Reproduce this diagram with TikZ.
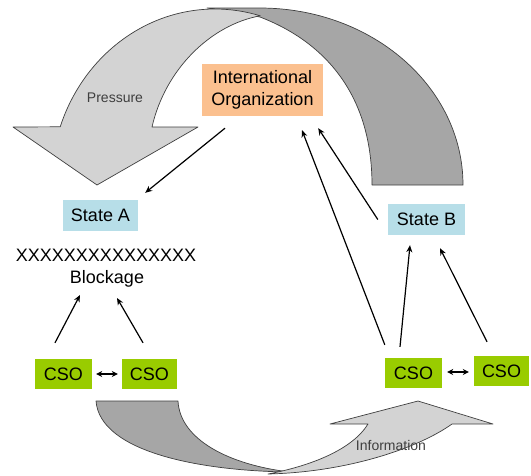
\documentclass[tikz,border=0pt]{standalone}
\usepackage{fontspec}
\setmainfont{Liberation Sans}
\usetikzlibrary{arrows.meta}
\definecolor{bandlight}{HTML}{D3D3D3}
\definecolor{banddark}{HTML}{A6A6A6}
\definecolor{bandline}{HTML}{3F3F3F}
\definecolor{ioorange}{HTML}{FBC08F}
\definecolor{stateblue}{HTML}{B7DEE8}
\definecolor{csogreen}{HTML}{99CC00}
\tikzset{
  band/.style={draw=bandline, line width=0.7pt, line join=round},
  boxnode/.style={inner sep=0pt, font=\fontsize{18}{22}\selectfont, text=black},
  ionode/.style={boxnode, fill=ioorange, minimum width=121pt, minimum height=52pt, align=center, font=\fontsize{18}{22.5}\selectfont},
  statenode/.style={boxnode, fill=stateblue, minimum height=31pt},
  csonode/.style={boxnode, fill=csogreen, minimum height=30pt},
  plain/.style={inner sep=0pt, font=\fontsize{18}{22}\selectfont},
  bandlabel/.style={inner sep=0pt, text=bandline, font=\fontsize{14}{16}\selectfont},
  conn/.style={line width=1.2pt, -{Stealth[length=7pt,width=6pt]}},
  dconn/.style={line width=1.2pt, {Stealth[length=6pt,width=6pt]}-{Stealth[length=6pt,width=6pt]}}
}
\begin{document}
\begin{tikzpicture}[x=1pt,y=-1pt]
\useasboundingbox (0,0) rectangle (531,475);
% top curved arrow: back (dark) part
\draw[band, fill=banddark] (207,8) -- (260,8) .. controls (372,8) and (463,87) .. (463,185)
  -- (372,185) .. controls (372,90) and (320,40) .. (260,17) -- cycle;
% top curved arrow: front (light) part with head
\draw[band, fill=bandlight] (13,127) -- (60.2,126.8) .. controls (83.2,56.2) and (145.3,9) .. (215,9)
  .. controls (230.3,9) and (245.5,11.3) .. (260.2,15.8)
  .. controls (210,25) and (165,70) .. (152,127) -- (198,127) -- (97,185) -- cycle;
\node[bandlabel] (pressure) at (115,98) {Pressure};
% bottom curved arrow: dark part
\draw[band, fill=banddark] (96,401) -- (178,401) .. controls (180,440) and (230,465) .. (290,472)
  .. controls (200,471) and (100,452) .. (96,401) -- cycle;
% bottom curved arrow: light part with head
\draw[band, fill=bandlight] (268,474) .. controls (310,466) and (352,450) .. (368,424)
  -- (330,424) -- (418,401) -- (493,424) -- (452,424)
  .. controls (420,447) and (350,472) .. (268,474) -- cycle;
\node[bandlabel] (information) at (391,445) {Information};
% nodes
\node[ionode] (io) at (262.5,90) {International\\Organization};
\node[statenode, minimum width=75pt] (sa) at (100.5,215.5) {State A};
\node[statenode, minimum width=77pt] (sb) at (426.5,219.5) {State B};
\node[plain] (xs) at (106,255) {XXXXXXXXXXXXXXX};
\node[plain] (block) at (107,279) {Blockage};
\node[csonode, minimum width=57pt] (cl1) at (63.5,374) {CSO};
\node[csonode, minimum width=55pt] (cl2) at (149.5,374) {CSO};
\node[csonode, minimum width=57pt] (cr1) at (413.5,373) {CSO};
\node[csonode, minimum width=55pt] (cr2) at (501.5,371) {CSO};
% connectors
\draw[conn] ([shift={(-37.5,12)}]io.south) -- ([shift={(7,-7)}]sa.north east);
\draw[conn] ([shift={(0,-13)}]cr1.north west) -- ([shift={(39.5,14)}]io.south);
\draw[conn] ([shift={(-10,0)}]sb.west) -- ([shift={(-5,12)}]io.south east);
\draw[conn] ([shift={(-13.5,-11)}]cr1.north) -- ([shift={(-16.5,10)}]sb.south);
\draw[conn] ([shift={(-14.5,-14)}]cr2.north) -- ([shift={(13.5,13)}]sb.south);
\draw[conn] ([shift={(-8.5,-16)}]cl1.north) -- ([shift={(-27,16)}]block.center);
\draw[conn] ([shift={(-6.5,-16)}]cl2.north) -- ([shift={(10,19)}]block.center);
\draw[dconn, shorten <=4pt, shorten >=4pt] (cl1.east) -- (cl2.west);
\draw[dconn, shorten <=5pt, shorten >=5pt] ([yshift=1pt]cr1.east) -- ([yshift=1pt]cr1.east -| cr2.west);
\end{tikzpicture}
\end{document}
